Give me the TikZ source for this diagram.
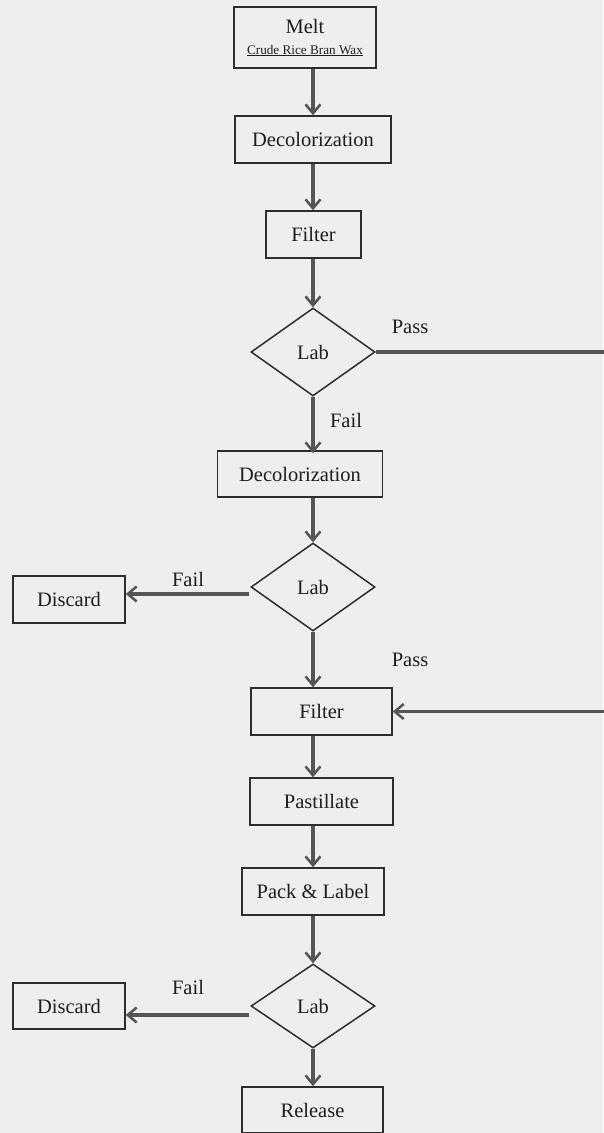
\documentclass[tikz,border=0pt]{standalone}
\usepackage{fontspec}
\setmainfont{Liberation Serif}
\usetikzlibrary{shapes.geometric,arrows.meta}
\definecolor{bg}{RGB}{238,238,236}
\definecolor{boxline}{RGB}{45,45,45}
\definecolor{arrline}{RGB}{85,85,85}
\definecolor{txt}{RGB}{30,30,30}
\tikzset{
  box/.style={draw=boxline, line width=1.5pt, rectangle, inner sep=0pt, text=txt,
    font=\fontsize{20.5}{24}\selectfont},
  dec/.style={draw=boxline, line width=1.5pt, diamond, inner sep=0pt, text=txt,
    minimum width=124pt, minimum height=88pt, font=\fontsize{20.5}{24}\selectfont},
  lbl/.style={text=txt, inner sep=0pt, font=\fontsize{20.5}{24}\selectfont},
  arr/.style={draw=arrline, line width=3.5pt, -{Straight Barb[length=9pt,width=15pt,line width=2.5pt]}},
  plain/.style={draw=arrline, line width=3.5pt}
}
\begin{document}
\begin{tikzpicture}[x=1pt,y=-1pt]
\fill[bg] (0,0) rectangle (603,1133);
\useasboundingbox (0,0) rectangle (603,1133);
% column reference
\coordinate (col) at (313,0);
% boxes
\node[box, minimum width=142pt, minimum height=61pt, align=center] (melt) at (305,37.5)
  {Melt\\[-3pt]{\fontsize{13.2}{15}\selectfont\underline{Crude Rice Bran Wax}}};
\node[box, minimum width=156pt, minimum height=47pt] (decol1) at (313,139.5) {Decolorization};
\node[box, minimum width=95pt, minimum height=47pt] (filter1) at (313.5,234.5) {Filter};
\node[dec] (lab1) at (313,352) {Lab};
\node[box, minimum width=165pt, minimum height=46pt] (decol2) at (300,474) {Decolorization};
\node[dec] (lab2) at (313,587) {Lab};
\node[box, minimum width=112pt, minimum height=47pt] (discard1) at (69,599.5) {Discard};
\node[box, minimum width=141pt, minimum height=47pt] (filter2) at (321.5,711.5) {Filter};
\node[box, minimum width=143pt, minimum height=47pt] (past) at (321.5,801.5) {Pastillate};
\node[box, minimum width=142pt, minimum height=47pt] (pack) at (313,891.5) {Pack \& Label};
\node[dec, minimum height=84pt] (lab3) at (313,1006) {Lab};
\node[box, minimum width=112pt, minimum height=46pt] (discard2) at (69,1006) {Discard};
\node[box, minimum width=141pt, minimum height=46pt] (release) at (312.5,1110) {Release};
% labels
\node[lbl] (pass1) at (410,327) {Pass};
\node[lbl] (fail1) at (346,420) {Fail};
\node[lbl] (fail2) at (188,579) {Fail};
\node[lbl] (pass2) at (410,660) {Pass};
\node[lbl] (fail3) at (188,987) {Fail};
% vertical connectors
\draw[arr] (melt.south -| col) -- (decol1.north -| col);
\draw[arr] (decol1.south -| col) -- (filter1.north -| col);
\draw[arr] (filter1.south -| col) -- (lab1.north);
\draw[arr] (lab1.south) -- ([yshift=-3pt]decol2.north -| col);
\draw[arr] (decol2.south -| col) -- (lab2.north);
\draw[arr] (lab2.south) -- (filter2.north -| col);
\draw[arr] (filter2.south -| col) -- (past.north -| col);
\draw[arr] (past.south -| col) -- (pack.north -| col);
\draw[arr] (pack.south -| col) -- (lab3.north);
\draw[arr] (lab3.south) -- (release.north -| col);
% fail branches
\coordinate (f2start) at ([shift={(-1pt,-7pt)}]lab2.west);
\draw[arr] (f2start) -- (f2start -| discard1.east);
\coordinate (f3start) at ([shift={(-1pt,-9pt)}]lab3.west);
\draw[arr] (f3start) -- (f3start -| discard2.east);
% pass loop going off the right edge
\coordinate (loopA) at (620,352);
\coordinate (loopB) at (620,711.5);
\draw[arr] (lab1.east) -- (loopA) -- (loopB) -- (filter2.east);
\end{tikzpicture}
\end{document}
